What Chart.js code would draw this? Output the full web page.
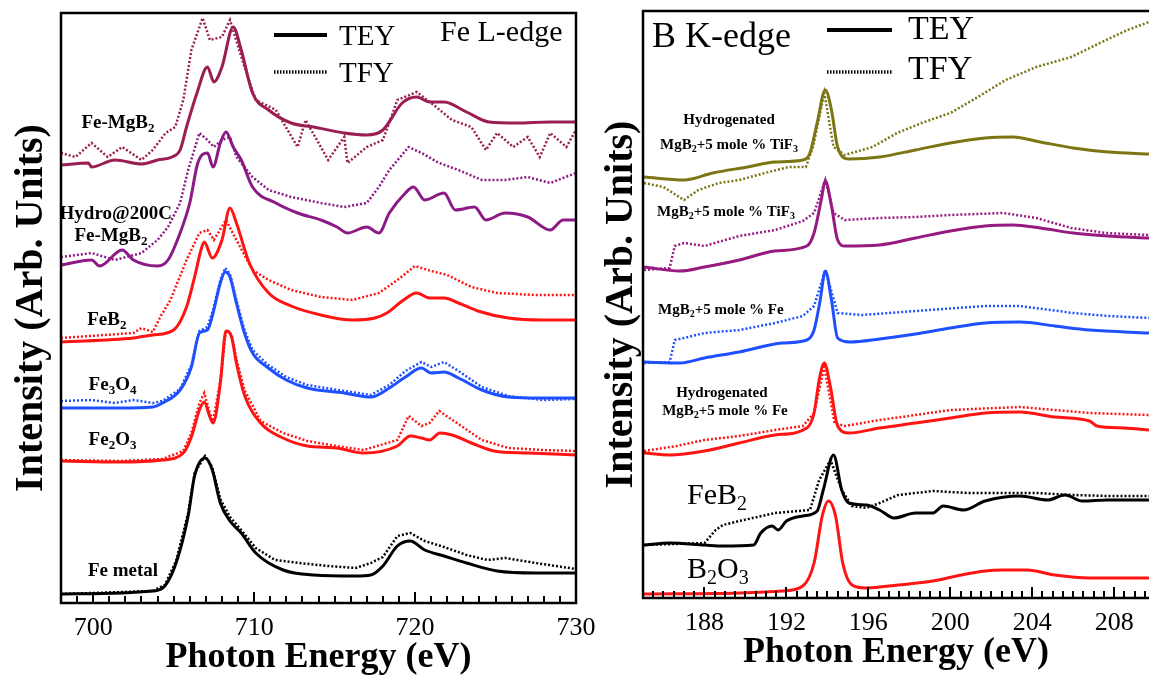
<!DOCTYPE html>
<html>
<head>
<meta charset="utf-8">
<script src="https://cdn.jsdelivr.net/npm/chart.js@4.4.1/dist/chart.umd.min.js"></script>
<style>
  html, body { margin: 0; padding: 0; background: #fff; }
  #wrap { position: relative; width: 1149px; height: 676px; overflow: hidden; }
  canvas { position: absolute; top: 0; }
  #feChart { left: 0; }
  #bChart { left: 600px; }
</style>
</head>
<body>
<div id="wrap">
  <canvas id="feChart" width="600" height="676"></canvas>
  <canvas id="bChart" width="549" height="676"></canvas>
</div>
<script>
// ---- Fe L-edge panel: [photon energy (eV), intensity (arb.)] ----
const feTicks = [700, 710, 720, 730];

const feMgB2Tey = [[698.0,438],[699.7,440],[699.9,436],[701.35,443],[703.0,439],[704.0,443],[704.9,446],[705.4,453],[705.8,476],[706.45,510],[707.1,536],[707.5,521],[708.0,536],[708.7,576],[709.2,553],[709.9,510],[710.9,493],[712.3,480],[713.7,476],[715.6,470],[717.0,468],[718.0,473],[719.2,500],[720.1,506],[720.9,501],[721.8,501],[723.2,491],[724.6,481],[726.3,480],[728.4,481],[730,481]];
const feMgB2Tfy = [[698.0,450],[698.9,446],[699.9,460],[700.9,446],[701.8,456],[703.0,443],[703.7,453],[704.5,470],[705.1,476],[705.6,503],[706.1,553],[706.8,585],[707.25,563],[708.0,566],[708.5,583],[709.4,536],[710.1,503],[711.35,493],[712.7,456],[713.2,483],[714.6,443],[715.6,466],[715.8,440],[717.0,456],[718.0,463],[718.9,503],[720.1,511],[721.0,500],[722.3,483],[723.5,476],[724.4,453],[725.1,470],[726.1,456],[727.0,466],[727.75,446],[728.4,470],[729.4,456],[730,473]];
const hydroTey = [[698.0,338],[699.9,343],[700.4,337],[701.8,353],[702.5,343],[704.0,337],[704.65,343],[705.4,370],[706.0,400],[706.5,440],[707.1,450],[707.45,436],[707.9,460],[708.25,471],[708.7,456],[709.2,443],[709.9,416],[711.35,400],[712.7,390],[714.15,383],[715.15,376],[715.8,370],[717.0,376],[717.75,370],[718.4,390],[719.4,410],[719.9,416],[720.6,403],[721.8,410],[722.5,393],[723.7,396],[724.4,383],[725.6,390],[727.0,386],[728.4,373],[729.2,383],[730,383]];
const hydroTfy = [[698.0,346],[699.9,350],[701.35,343],[703.0,350],[704.0,363],[704.65,376],[705.4,400],[705.9,433],[706.6,470],[707.1,463],[707.5,456],[708.0,463],[708.5,466],[708.9,446],[709.9,426],[710.9,413],[712.3,406],[714.15,400],[715.6,396],[717.0,400],[717.75,416],[718.4,433],[719.6,456],[720.4,450],[721.5,440],[722.7,433],[724.15,423],[725.6,423],[727.0,426],[728.4,420],[730,430]];
const feB2Tey = [[698.0,261],[702.5,265],[703.7,268],[705.0,273],[705.8,296],[706.3,326],[706.75,356],[706.9,361],[707.4,345],[708.0,363],[708.5,395],[708.9,380],[709.7,340],[710.9,310],[712.3,297],[714.15,288],[716.1,283],[717.5,285],[718.25,290],[719.2,302],[720.1,310],[720.9,305],[721.8,305],[722.7,300],[723.9,292],[725.8,285],[727.9,283],[730,283]];
const feB2Tfy = [[698.0,265],[702.5,270],[703.0,275],[703.7,271],[704.2,287],[704.8,303],[705.8,343],[706.6,370],[707.1,373],[707.5,363],[708.25,383],[708.9,363],[709.9,333],[710.9,323],[712.3,313],[714.15,306],[716.1,303],[717.75,310],[718.9,323],[720.0,337],[721.0,332],[722.0,328],[723.5,316],[725.1,310],[727.5,308],[730,308]];
const fe3O4Tey = [[698.0,195],[701.7,195],[703.7,196],[704.3,200],[705.4,213],[706.1,236],[706.6,270],[707.1,273],[707.45,290],[707.9,320],[708.2,331],[708.5,326],[708.9,300],[709.4,270],[709.9,250],[710.8,236],[712.0,223],[713.3,215],[715.6,210],[717.25,206],[718.4,215],[719.4,226],[720.4,235],[721.0,230],[721.8,231],[722.7,225],[724.15,213],[725.8,206],[727.9,205],[730,205]];
const fe3O4Tfy = [[698.0,202],[699.9,203],[701.35,200],[702.5,203],[703.7,200],[704.3,202],[705.4,214],[706.1,238],[706.6,272],[707.1,276],[707.45,293],[707.9,323],[708.2,335],[708.5,329],[708.9,303],[709.4,273],[709.9,253],[710.8,239],[712.0,226],[713.3,218],[715.6,212],[717.25,208],[718.4,218],[719.4,232],[720.4,241],[721.0,236],[721.8,241],[722.7,232],[724.15,216],[725.8,207],[727.9,203],[730,204]];
const fe2O3Tey = [[698.0,142],[701.7,141],[704.3,143],[705.6,150],[706.1,166],[706.6,193],[706.9,201],[707.25,186],[707.45,180],[707.9,220],[708.25,272],[708.6,266],[708.9,240],[709.4,208],[710.4,180],[711.8,165],[713.3,157],[715.1,155],[716.8,150],[718.9,157],[719.7,167],[720.4,165],[720.9,163],[721.55,170],[722.3,168],[723.5,160],[724.9,152],[727.0,150],[730,148]];
const fe2O3Tfy = [[698.0,143],[701.7,142],[704.3,144],[705.6,152],[706.1,170],[706.6,200],[706.9,210],[707.25,190],[707.45,182],[707.9,222],[708.25,273],[708.6,268],[708.9,244],[709.4,213],[710.4,182],[711.8,170],[713.3,162],[715.1,157],[716.8,153],[718.9,163],[719.6,187],[720.4,177],[720.9,180],[721.5,192],[722.6,180],[724.15,163],[725.8,155],[727.9,153],[730,152]];
const feMetalTey = [[698.0,9],[703.7,12],[704.45,17],[705.15,40],[705.9,87],[706.3,127],[706.95,145],[707.4,133],[707.9,100],[708.5,82],[709.2,70],[710.1,50],[711.8,33],[713.7,28],[716.3,27],[717.25,28],[718.0,37],[718.9,57],[719.7,62],[720.6,53],[721.8,47],[723.2,40],[725.1,32],[727.5,30],[730,30]];
const feMetalTfy = [[698.0,9],[703.7,12],[704.45,18],[705.15,42],[705.9,90],[706.3,130],[706.95,147],[707.4,136],[707.9,104],[708.5,86],[709.2,73],[710.1,55],[711.3,43],[712.8,40],[714.6,37],[716.3,35],[717.25,40],[718.0,46],[718.9,67],[719.7,70],[720.6,62],[721.8,56],[723.2,48],[724.5,43],[725.6,45],[727.5,40],[730,34]];

// ---- B K-edge panel ----
const bTicks = [188, 192, 196, 200, 204, 208];

const hydTiF3Tey = [[185.05,421],[187.0,418],[188.4,425],[190.1,431],[191.45,436],[192.8,438],[193.15,445],[193.5,475],[193.9,508],[194.2,488],[194.5,451],[195.05,439],[196.55,441],[198.3,448],[200.0,455],[201.7,460],[203.05,461],[204.4,456],[206.0,450],[207.7,446],[209.7,444]];
const hydTiF3Tfy = [[185.05,415],[186.0,411],[187.0,398],[187.7,408],[188.7,415],[189.7,418],[190.95,425],[192.1,431],[192.95,431],[193.3,451],[193.85,505],[194.3,451],[194.85,443],[196.2,451],[197.4,465],[198.6,475],[200.0,485],[201.35,501],[202.7,518],[204.2,531],[205.9,541],[207.3,555],[208.65,568],[209.7,576]];
const tiF3Tey = [[185.05,331],[186.8,327],[188.0,331],[189.7,338],[191.45,347],[193.0,352],[193.35,365],[193.7,398],[193.9,417],[194.2,392],[194.5,358],[194.85,352],[196.55,353],[198.3,360],[200.0,367],[201.7,372],[203.05,373],[204.4,370],[206.0,365],[207.7,362],[209.7,360]];
const tiF3Tfy = [[185.05,328],[186.3,330],[186.55,352],[187.0,355],[188.0,352],[189.7,362],[191.45,368],[192.8,377],[193.35,385],[193.9,418],[194.3,385],[194.85,378],[196.55,380],[198.3,381],[200.0,383],[202.6,385],[204.2,380],[205.9,370],[207.6,365],[209.7,363]];
const mgFeTey = [[185.05,236],[186.8,235],[188.0,240],[189.7,246],[191.8,255],[193.0,258],[193.35,268],[193.65,298],[193.9,327],[194.2,298],[194.5,260],[195.1,256],[196.55,259],[198.3,264],[200.0,270],[201.7,275],[203.4,276],[205.1,272],[206.8,268],[209.7,265]];
const mgFeTfy = [[185.05,235],[186.3,236],[186.55,258],[187.2,261],[188.0,265],[189.7,268],[191.45,275],[192.8,282],[193.35,292],[193.9,328],[194.5,285],[195.7,283],[198.3,287],[201.7,292],[203.4,292],[206.0,285],[207.7,282],[209.7,280]];
const hydFeTey = [[185.05,145],[186.3,143],[188.0,147],[189.7,155],[191.45,163],[193.0,170],[193.35,185],[193.6,218],[193.85,235],[194.15,211],[194.5,172],[195.05,165],[196.55,170],[198.3,175],[200.0,180],[201.7,185],[203.4,186],[205.1,181],[206.8,177],[207.15,172],[208.5,170],[209.7,168]];
const hydFeTfy = [[185.05,147],[186.65,152],[188.0,158],[189.7,162],[191.45,168],[192.8,172],[193.35,185],[193.85,231],[194.35,175],[194.85,172],[196.55,178],[198.3,183],[200.0,188],[203.4,191],[205.1,188],[206.8,185],[209.7,183]];
const bFeB2Tey = [[185.05,53],[186.3,55],[188.0,53],[188.9,52],[190.4,53],[190.75,65],[191.3,72],[191.6,68],[192.0,77],[192.8,82],[193.5,87],[193.8,108],[194.3,143],[194.7,108],[195.05,95],[195.9,93],[196.55,88],[197.25,80],[198.3,85],[199.15,85],[199.65,92],[200.65,88],[201.7,97],[203.4,102],[204.75,98],[205.6,103],[206.45,97],[207.7,98],[209.7,98]];
const bFeB2Tfy = [[185.05,53],[188.0,55],[188.55,68],[188.9,73],[189.7,77],[191.45,85],[193.15,88],[193.6,118],[194.15,138],[194.7,108],[195.2,92],[195.9,90],[196.55,95],[197.45,103],[199.15,107],[200.85,105],[202.55,105],[204.25,105],[205.95,103],[207.7,102],[209.7,102]];
const b2O3Tey = [[185.05,4],[189.7,5],[191.8,7],[192.8,12],[193.35,35],[193.75,82],[194.05,97],[194.4,82],[194.75,35],[195.2,13],[195.9,10],[197.45,13],[199.15,17],[200.3,22],[201.7,27],[202.55,28],[203.75,28],[205.1,23],[206.8,20],[209.7,20]];

const SERIF = '"Liberation Serif", "Times New Roman", serif';

function toXY(points) {
  return points.map(([x, y]) => ({ x, y }));
}

function tey(points, color) {
  return { data: toXY(points), borderColor: color, borderWidth: 3, pointRadius: 0, fill: false, cubicInterpolationMode: "monotone" };
}

function tfy(points, color) {
  // fluorescence traces are noisy: keep them as straight segments
  return { data: toXY(points), borderColor: color, borderWidth: 2.5, borderDash: [2, 2], pointRadius: 0, fill: false, tension: 0 };
}

// text with single-digit subscripts written as _2
function drawRich(ctx, text, px, py, size, weight, align) {
  const parts = [];
  text.split(/(_\d)/).forEach((s) => {
    if (!s) return;
    if (s[0] === "_") parts.push({ t: s[1], sub: true });
    else parts.push({ t: s, sub: false });
  });
  const main = `${weight} ${size}px ${SERIF}`;
  const small = `${weight} ${Math.round(size * 0.68)}px ${SERIF}`;
  let w = 0;
  parts.forEach((p) => {
    ctx.font = p.sub ? small : main;
    p.w = ctx.measureText(p.t).width;
    w += p.w;
  });
  let cx = align === "center" ? px - w / 2 : px;
  ctx.textBaseline = "middle";
  ctx.textAlign = "left";
  parts.forEach((p) => {
    ctx.font = p.sub ? small : main;
    ctx.fillText(p.t, cx, p.sub ? py + size * 0.3 : py);
    cx += p.w;
  });
}

const decor = {
  id: "decor",
  afterDatasetsDraw(chart, args, opts) {
    const { ctx, chartArea: a, scales: { x, y } } = chart;
    ctx.save();
    ctx.fillStyle = "#000";
    ctx.strokeStyle = "#000";

    // inner ticks along the bottom axis
    ctx.lineWidth = 2;
    for (let i = 0; ; i++) {
      const v = opts.tickFrom + i * opts.minorStep;
      if (v > x.max + 1e-6) break;
      const px = Math.round(x.getPixelForValue(v));
      const r = v / opts.majorStep;
      const len = Math.abs(r - Math.round(r)) < 1e-6 ? 11 : 7;
      ctx.beginPath();
      ctx.moveTo(px, a.bottom);
      ctx.lineTo(px, a.bottom - len);
      ctx.stroke();
    }

    // frame
    ctx.lineWidth = 2.5;
    ctx.beginPath();
    if (opts.closed) {
      ctx.rect(a.left, a.top, a.right - a.left, a.bottom - a.top);
    } else {
      ctx.moveTo(a.right + 2, a.top);
      ctx.lineTo(a.left, a.top);
      ctx.lineTo(a.left, a.bottom);
      ctx.lineTo(a.right + 2, a.bottom);
    }
    ctx.stroke();

    // legend samples
    opts.legend.forEach((item) => {
      ctx.save();
      ctx.lineWidth = item.dashed ? 3.5 : 4;
      ctx.setLineDash(item.dashed ? [1.5, 1.5] : []);
      ctx.beginPath();
      ctx.moveTo(item.x0, item.y);
      ctx.lineTo(item.x1, item.y);
      ctx.stroke();
      ctx.restore();
      drawRich(ctx, item.text, item.tx, item.ty, item.size, "normal", "left");
    });
    drawRich(ctx, opts.title.text, opts.title.x, opts.title.y, opts.title.size, "normal", "left");

    // curve labels, anchored in data coordinates
    opts.labels.forEach((lb) => {
      drawRich(ctx, lb.text, x.getPixelForValue(lb.e), y.getPixelForValue(lb.v), lb.size, lb.weight, lb.align);
    });
    ctx.restore();
  }
};

function xAxis(min, max, ticks, height, titlePad) {
  return {
    type: "linear",
    min, max,
    afterBuildTicks: (s) => { s.ticks = ticks.map((value) => ({ value })); },
    afterFit: (s) => {
      s.height = height;
      s.paddingLeft = 0;
      s.paddingRight = 0;
    },
    grid: { display: false, drawTicks: false },
    border: { display: false },
    ticks: { color: "#000", font: { family: SERIF, size: 26 }, padding: 10, maxRotation: 0, autoSkip: false },
    title: {
      display: true, text: "Photon Energy (eV)", color: "#000",
      font: { family: SERIF, size: 36, weight: "bold", lineHeight: 1 },
      padding: { top: 0, bottom: titlePad }
    }
  };
}

function yAxis(max, width, titlePad) {
  return {
    type: "linear",
    min: 0, max,
    afterFit: (s) => {
      s.width = width;
      s.paddingTop = 0;
      s.paddingBottom = 0;
    },
    grid: { display: false, drawTicks: false },
    border: { display: false },
    ticks: { display: false },
    title: {
      display: true, text: "Intensity (Arb. Units)", color: "#000",
      font: { family: SERIF, size: 40, weight: "bold", lineHeight: 1 },
      padding: { top: titlePad, bottom: 0 }
    }
  };
}

const maroon = "#9a1e52";
const purple = "#8c1a86";
const red = "#ff1414";
const blue = "#1f50ff";
const olive = "#7b7514";
const magenta = "#971a80";

new Chart(document.getElementById("feChart"), {
  type: "line",
  data: {
    datasets: [
      tey(feMgB2Tey, maroon), tey(hydroTey, purple), tey(feB2Tey, red),
      tey(fe3O4Tey, blue), tey(fe2O3Tey, red), tey(feMetalTey, "#000"),
      tfy(feMgB2Tfy, maroon), tfy(hydroTfy, purple), tfy(feB2Tfy, red),
      tfy(fe3O4Tfy, blue), tfy(fe2O3Tfy, red), tfy(feMetalTfy, "#000")
    ]
  },
  options: {
    responsive: false,
    animation: false,
    devicePixelRatio: 1,
    layout: { padding: { left: 0, top: 13, right: 24, bottom: 0 } },
    plugins: {
      legend: { display: false },
      tooltip: { enabled: false },
      decor: {
        tickFrom: 698, minorStep: 1, majorStep: 10, closed: true,
        legend: [
          { x0: 274, x1: 327, y: 35, dashed: false, text: "TEY", tx: 339, ty: 37, size: 29 },
          { x0: 274, x1: 327, y: 72, dashed: true, text: "TFY", tx: 339, ty: 74, size: 29 }
        ],
        title: { text: "Fe L-edge", x: 440, y: 33, size: 30 },
        labels: [
          { text: "Fe-MgB_2", e: 701.54, v: 480, size: 19, weight: "bold", align: "center" },
          { text: "Hydro@200C", e: 701.4, v: 389, size: 19, weight: "bold", align: "center" },
          { text: "Fe-MgB_2", e: 701.1, v: 367, size: 19, weight: "bold", align: "center" },
          { text: "FeB_2", e: 700.85, v: 283, size: 19, weight: "bold", align: "center" },
          { text: "Fe_3O_4", e: 701.2, v: 218, size: 19, weight: "bold", align: "center" },
          { text: "Fe_2O_3", e: 701.2, v: 163, size: 19, weight: "bold", align: "center" },
          { text: "Fe metal", e: 701.85, v: 32, size: 19, weight: "bold", align: "center" }
        ]
      }
    },
    scales: {
      x: xAxis(698, 730, feTicks, 73, 0),
      y: yAxis(590, 61, 12)
    }
  },
  plugins: [decor]
});

new Chart(document.getElementById("bChart"), {
  type: "line",
  data: {
    datasets: [
      tey(hydTiF3Tey, olive), tey(tiF3Tey, magenta), tey(mgFeTey, blue),
      tey(hydFeTey, red), tey(bFeB2Tey, "#000"), tey(b2O3Tey, red),
      tfy(hydTiF3Tfy, olive), tfy(tiF3Tfy, magenta), tfy(mgFeTfy, blue),
      tfy(hydFeTfy, red), tfy(bFeB2Tfy, "#000")
    ]
  },
  options: {
    responsive: false,
    animation: false,
    devicePixelRatio: 1,
    layout: { padding: { left: 0, top: 11, right: 0, bottom: 0 } },
    plugins: {
      legend: { display: false },
      tooltip: { enabled: false },
      decor: {
        tickFrom: 185, minorStep: 0.5, majorStep: 4, closed: false,
        legend: [
          { x0: 227, x1: 292, y: 30, dashed: false, text: "TEY", tx: 308, ty: 30, size: 34 },
          { x0: 227, x1: 292, y: 72, dashed: true, text: "TFY", tx: 308, ty: 70, size: 34 }
        ],
        title: { text: "B K-edge", x: 52, y: 38, size: 36 },
        labels: [
          { text: "Hydrogenated", e: 189.2, v: 478, size: 15, weight: "bold", align: "center" },
          { text: "MgB_2+5 mole % TiF_3", e: 189.2, v: 453, size: 15, weight: "bold", align: "center" },
          { text: "MgB_2+5 mole % TiF_3", e: 189.05, v: 386, size: 15, weight: "bold", align: "center" },
          { text: "MgB_2+5 mole % Fe", e: 188.8, v: 288, size: 15, weight: "bold", align: "center" },
          { text: "Hydrogenated", e: 188.85, v: 205, size: 15, weight: "bold", align: "center" },
          { text: "MgB_2+5 mole % Fe", e: 189.0, v: 187, size: 15, weight: "bold", align: "center" },
          { text: "FeB_2", e: 187.15, v: 102, size: 30, weight: "normal", align: "left" },
          { text: "B_2O_3", e: 187.15, v: 28, size: 30, weight: "normal", align: "left" }
        ]
      }
    },
    scales: {
      x: xAxis(185, 209.7, bTicks, 78, 5),
      y: yAxis(587, 43, 2)
    }
  },
  plugins: [decor]
});
</script>
</body>
</html>
